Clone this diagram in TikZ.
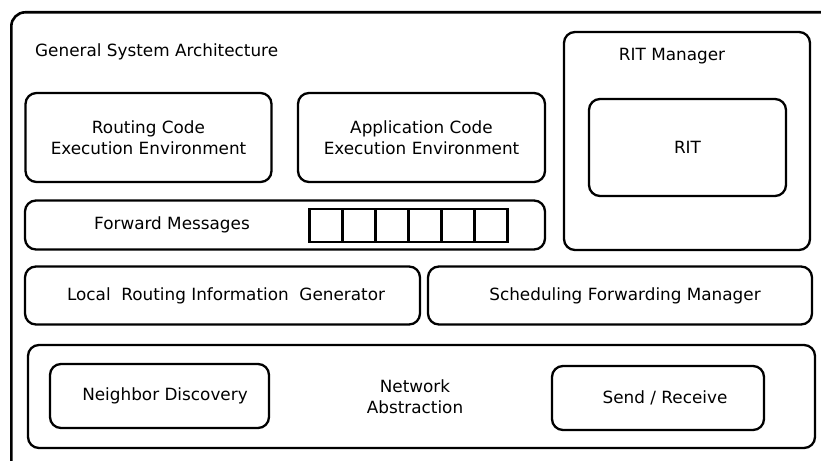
\documentclass[tikz,border=0pt]{standalone}
\usepackage{fontspec}
\setmainfont{DejaVu Sans}
\begin{document}
\begin{tikzpicture}[x=1bp,y=-1bp,
  box/.style={draw=black, line width=2.3bp, rounded corners=11bp, inner sep=0pt, align=center, font=\fontsize{16.9}{21.5}\selectfont},
  cell/.style={draw=black, line width=2.3bp, inner sep=0pt, minimum width=33bp, minimum height=33bp},
  lbl/.style={inner sep=0pt, align=center, font=\fontsize{16.9}{21.5}\selectfont}]
\useasboundingbox (0,0) rectangle (821,461);
\clip (0,0) rectangle (821,461);
\fill[white] (0,0) rectangle (821,461);
% outer frame
\node[box, line width=2.6bp, rounded corners=14bp, minimum width=840bp, minimum height=470bp, anchor=north west] (outer) at (10,11) {};
\node[lbl, anchor=west] (title) at (35,51.5) {General System Architecture};
% top row
\node[box, minimum width=246bp, minimum height=89bp] (rcee) at (148.5,137.5) {Routing Code\\Execution Environment};
\node[box, minimum width=247bp, minimum height=89bp] (acee) at (421.5,137.5) {Application Code\\Execution Environment};
% RIT manager
\node[box, minimum width=246bp, minimum height=218bp] (ritm) at (687,141) {};
\node[lbl] (ritmt) at (672,56) {RIT Manager};
\node[box, minimum width=197bp, minimum height=97bp] (rit) at (687.5,147.5) {RIT};
% forward messages
\node[box, minimum width=520bp, minimum height=49bp] (fwd) at (285,225) {};
\node[lbl] (fwdt) at (172,225) {Forward Messages};
\node[cell] (c1) at (326,225.5) {};
\node[cell] (c2) at (359,225.5) {};
\node[cell] (c3) at (392,225.5) {};
\node[cell] (c4) at (425,225.5) {};
\node[cell] (c5) at (458,225.5) {};
\node[cell] (c6) at (491,225.5) {};
% middle row
\node[box, minimum width=395bp, minimum height=58bp] (lrig) at (222.5,295.5) {};
\node[lbl] (lrigt) at (226,296) {Local\ \ Routing Information\ \ Generator};
\node[box, minimum width=384bp, minimum height=58bp] (sfm) at (620,295.5) {};
\node[lbl] (sfmt) at (625,296) {Scheduling Forwarding Manager};
% network abstraction
\node[box, minimum width=787bp, minimum height=103bp] (net) at (421.5,396.5) {};
\node[lbl] (nett) at (415,397) {Network\\Abstraction};
\node[box, minimum width=219bp, minimum height=64bp] (nd) at (159.5,396) {};
\node[lbl] (ndt) at (165,396) {Neighbor Discovery};
\node[box, minimum width=212bp, minimum height=64bp] (sr) at (658,398) {};
\node[lbl] (srt) at (665,398) {Send / Receive};
\end{tikzpicture}
\end{document}
